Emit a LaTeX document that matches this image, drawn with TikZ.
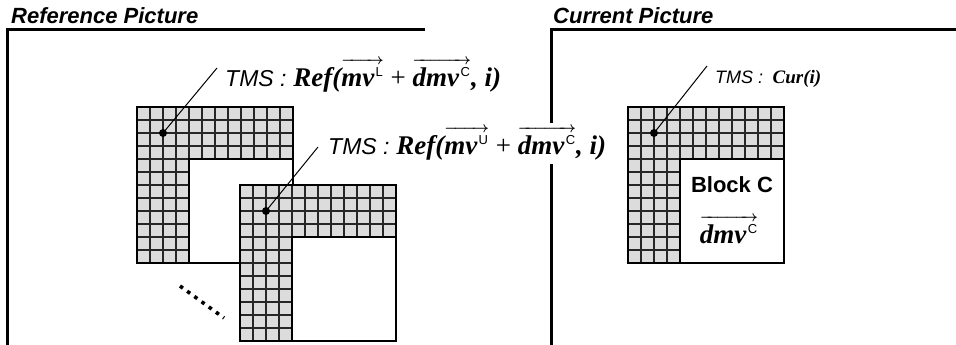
\documentclass[tikz,border=0pt]{standalone}
\usepackage{amsmath}
\usepackage{fix-cm}
\usepackage{fontspec}
\setmainfont{Liberation Serif}
\newfontfamily\arialf{Liberation Sans}
\definecolor{cellgray}{HTML}{DCDCDC}
\definecolor{gridc}{HTML}{262626}
\tikzset{
  frameline/.style={line width=3pt, line cap=rect},
  gridline/.style={draw=gridc, line width=1.4pt},
  border/.style={draw=black, line width=2pt},
  dot/.style={circle, fill=black, inner sep=0pt, minimum size=8pt},
  leader/.style={line width=1pt},
  lbl/.style={inner sep=0pt, font=\fontsize{27}{31}\selectfont},
  lblsmall/.style={inner sep=0pt, font=\fontsize{19}{23}\selectfont},
  titlef/.style={inner sep=0pt, font=\arialf\bfseries\itshape\fontsize{22}{26}\selectfont},
}
\newcommand\tms[1]{{\arialf\itshape\fontsize{#1}{#1}\selectfont TMS :}}
\newcommand\va[2]{{\fontsize{15}{15}\selectfont\boldmath$\overrightarrow{\hbox{\fontsize{27}{31}\selectfont\bfseries\itshape #1\kern1.5pt\smash{\raisebox{9.5pt}{\arialf\mdseries\upshape\fontsize{13}{13}\selectfont #2}}\kern1pt\rule{0pt}{21.5pt}}}$}}
\newcommand\Lblock[2]{%
  \begin{scope}[shift={(#1,#2)}]
    \fill[white] (0,0) rectangle (156,156);
    \fill[cellgray] (0,0) -- (156,0) -- (156,52) -- (52,52) -- (52,156) -- (0,156) -- cycle;
    \begin{scope}
      \clip (0,0) -- (156,0) -- (156,52) -- (52,52) -- (52,156) -- (0,156) -- cycle;
      \foreach \k in {1,...,11} {
        \draw[gridline] (\k*13,0) -- (\k*13,156);
        \draw[gridline] (0,\k*13) -- (156,\k*13);
      }
    \end{scope}
    \draw[border] (0,0) rectangle (156,156);
    \draw[border] (52,156) |- (156,52);
  \end{scope}}
\begin{document}
\begin{tikzpicture}[x=1pt,y=-1pt]
\useasboundingbox (0,0) rectangle (956,345);
% titles
\node[titlef, anchor=base west] (ttl1) at (11,24) {Reference Picture};
\node[titlef, anchor=base west] (ttl2) at (553,24) {Current Picture};
% frames
\coordinate (f1a) at (423,30);
\coordinate (f1b) at (7,30);
\coordinate (f1c) at (7,343);
\coordinate (f2a) at (956,30);
\coordinate (f2b) at (551,30);
\coordinate (f2c) at (551,121);
\coordinate (f2d) at (551,165);
\coordinate (f2e) at (551,343);
\draw[frameline] (f1a) -- (f1b) -- (f1c);
\draw[frameline] (f2a) -- (f2b) -- (f2c);
\draw[frameline] (f2d) -- (f2e);
% blocks
\Lblock{137}{107}
\Lblock{240}{185}
\Lblock{628}{107}
% dotted continuation
\coordinate (dA) at (180,286);
\coordinate (dB) at (224,318);
\draw[line width=3.6pt, dash pattern=on 3.6pt off 5.3pt] (dA) -- (dB);
% dots and labels
\node[dot] (d1) at (163,133) {};
\node[dot] (d2) at (266,211) {};
\node[dot] (d3) at (654,133) {};
\coordinate (e1) at (217,68);
\coordinate (e2) at (318,147);
\coordinate (e3) at (707,66);
\draw[leader] (d1.center) -- (e1);
\draw[leader] (d2.center) -- (e2);
\draw[leader] (d3.center) -- (e3);
\node[lbl, anchor=base west] (t1) at (225,86) {\tms{23} {\bfseries\itshape Ref(}\va{mv}{L} + \va{dmv}{C}{\bfseries\itshape , i)}};
\node[lbl, anchor=base west] (t2) at (328,154) {\tms{23} {\bfseries\itshape Ref(}\va{mv}{U} + \va{dmv}{C}{\bfseries\itshape , i)}};
\node[lblsmall, anchor=base west] (t3) at (715,84) {\tms{18}\enspace{\bfseries\itshape Cur(i)}};
% block C text
\node[inner sep=0pt, font=\arialf\bfseries\fontsize{22}{26}\selectfont] (bc) at (732,185) {Block C};
\node[lbl, anchor=base] (dm) at (729,243) {\va{dmv}{C}};
\end{tikzpicture}
\end{document}
